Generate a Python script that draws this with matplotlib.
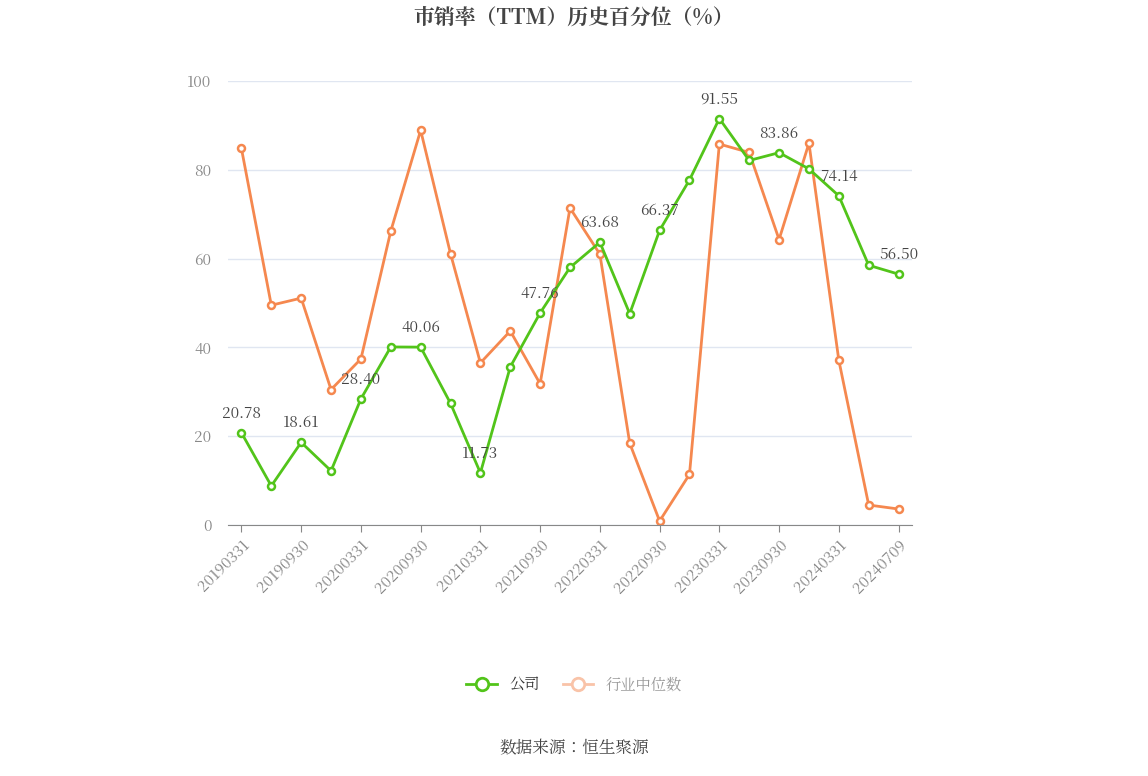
import matplotlib
matplotlib.use("Agg")
import matplotlib.pyplot as plt
from matplotlib.lines import Line2D
from matplotlib import font_manager as fm

cjk = None
for f in fm.findSystemFonts():
    if "NotoSansCJK" in f.replace(" ", "") or "Noto Sans CJK" in f:
        try:
            fm.fontManager.addfont(f)
        except Exception:
            pass
names = [f.name for f in fm.fontManager.ttflist if "CJK" in f.name]
fam = "Noto Sans CJK SC" if "Noto Sans CJK SC" in names else (names[0] if names else "DejaVu Sans")
plt.rcParams["font.family"] = [fam, "DejaVu Sans"]

dates = ["20190331","20190630","20190930","20191231","20200331","20200630","20200930","20201231",
         "20210331","20210630","20210930","20211231","20220331","20220630","20220930","20221231",
         "20230331","20230630","20230930","20231231","20240331","20240630","20240709"]
company = [20.78,8.8,18.61,12.2,28.40,40.1,40.06,27.4,11.73,35.6,47.76,58.0,63.68,47.6,66.37,77.7,
           91.55,82.1,83.86,80.2,74.14,58.5,56.50]
industry = [84.8,49.5,51.1,30.5,37.4,66.2,88.9,61.1,36.5,43.7,31.8,71.4,61.0,18.4,0.9,11.4,
            85.8,83.9,64.3,86.0,37.1,4.5,3.6]
tick_idx = list(range(0, 21, 2)) + [22]

W, H = 1148, 776
fig = plt.figure(figsize=(W/100, H/100), dpi=100)
ax = fig.add_axes([228/W, 1-525/H, (912-228)/W, (525-81)/H])
x = list(range(len(dates)))
green, orange = "#52c41a", "#f5884f"
ax.plot(x, industry, color=orange, lw=2, marker="o", ms=5, mfc="white", mec=orange, mew=1.8, zorder=2)
ax.plot(x, company, color=green, lw=2, marker="o", ms=5, mfc="white", mec=green, mew=1.8, zorder=3)
for i in range(0, len(x), 2):
    ax.annotate(f"{company[i]:.2f}", (x[i], company[i]), xytext=(0, 8), textcoords="offset points",
                ha="center", va="bottom", fontsize=11, color="#444444")
ax.set_xlim(-0.45, 22.45)
ax.set_ylim(0, 100)
ax.set_yticks([0, 20, 40, 60, 80, 100])
ax.set_xticks([x[i] for i in tick_idx])
ax.set_xticklabels([dates[i] for i in tick_idx], rotation=45, ha="right", rotation_mode="anchor")
ax.tick_params(axis="y", length=0, labelsize=11, labelcolor="#888888", pad=12)
ax.tick_params(axis="x", length=5, color="#888888", labelsize=11, labelcolor="#888888")
ax.grid(axis="y", color="#e0e6f1", lw=1)
for s in ["top", "right", "left"]:
    ax.spines[s].set_visible(False)
ax.spines["bottom"].set_color("#888888")
ax.set_axisbelow(True)

fig.text(0.5, 1-18/H, "市销率（TTM）历史百分位（%）", ha="center", va="center", fontsize=15,
         fontweight="bold", color="#444444")
handles = [Line2D([], [], color=green, lw=2, marker="o", ms=9, mfc="white", mec=green, mew=2),
           Line2D([], [], color="#f9c3a8", lw=2, marker="o", ms=9, mfc="white", mec="#f9c3a8", mew=2)]
leg = fig.legend(handles, ["公司", "行业中位数"], loc="center", bbox_to_anchor=(0.5, 1-685/H), ncol=2,
                 frameon=False, fontsize=11, handlelength=2, columnspacing=1.5)
leg.get_texts()[0].set_color("#333333")
leg.get_texts()[1].set_color("#999999")
fig.text(0.5, 1-748/H, "数据来源：恒生聚源", ha="center", va="center", fontsize=12, color="#444444")
fig.savefig("out.png", dpi=100)
